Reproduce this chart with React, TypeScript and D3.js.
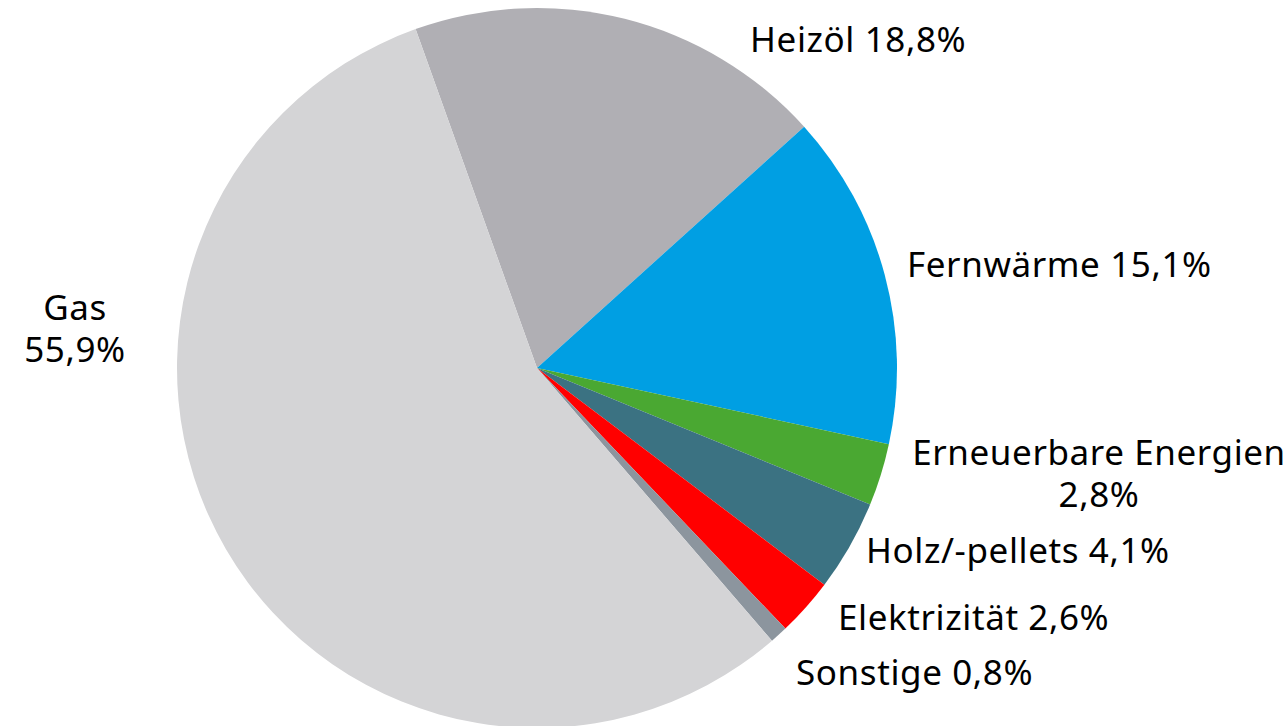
import React from "react";
import { pie, arc } from "d3";

const categories = ["Heizöl", "Fernwärme", "Erneuerbare Energien", "Holz/-pellets", "Elektrizität", "Sonstige", "Gas"];
const shares = [18.8, 15.1, 2.8, 4.1, 2.6, 0.8, 55.9];
const colors = ["#b0afb4", "#009fe3", "#4aa832", "#3b7282", "#ff0000", "#8c959e", "#d4d4d6"];

// label layout: [x, y, anchor, twoLines]
const labelLayout: [number, number, string, boolean][] = [
  [750, 52, "start", false],
  [907, 277, "start", false],
  [1099, 465, "middle", true],
  [866, 563, "start", false],
  [838, 630, "start", false],
  [796, 685, "start", false],
  [75, 320, "middle", true],
];

const fmt = (v: number) => v.toFixed(1).replace(".", ",") + "%";

export default function App() {
  const width = 1287;
  const height = 726;
  const cx = 537;
  const cy = 368;
  const radius = 360;

  const startAngle = -0.344;
  const slices = pie<number>()
    .sort(null)
    .startAngle(startAngle)
    .endAngle(startAngle + Math.PI * 2)(shares);

  const arcGen = arc<any>().innerRadius(0).outerRadius(radius);

  return (
    <svg width={width} height={height} style={{ position: "absolute", left: 0, top: 0 }}>
      <rect width={width} height={height} fill="#fff" />
      <g transform={`translate(${cx},${cy})`}>
        {slices.map((s, i) => (
          <path key={i} d={arcGen(s) || ""} fill={colors[i]} />
        ))}
      </g>
      <g fontFamily="'Noto Sans', sans-serif" fontSize={35} letterSpacing={0.6} fill="#000">
        {categories.map((c, i) => {
          const [x, y, anchor, two] = labelLayout[i];
          return two ? (
            <text key={c} x={x} y={y} textAnchor={anchor}>
              <tspan x={x}>{c}</tspan>
              <tspan x={x} dy={42}>{fmt(shares[i])}</tspan>
            </text>
          ) : (
            <text key={c} x={x} y={y} textAnchor={anchor}>
              {c} {fmt(shares[i])}
            </text>
          );
        })}
      </g>
    </svg>
  );
}
